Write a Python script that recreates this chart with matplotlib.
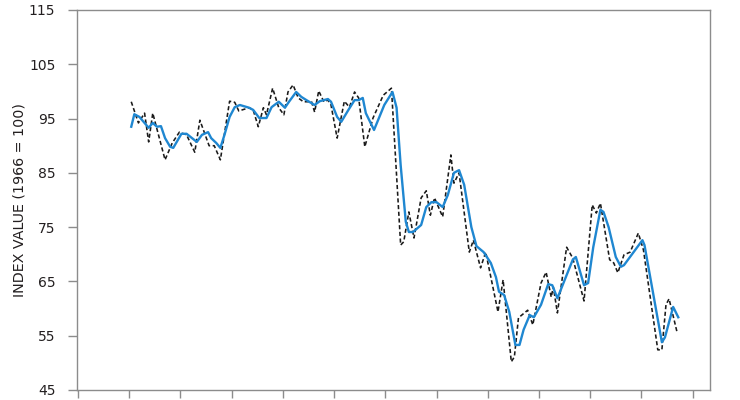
import matplotlib
matplotlib.use("Agg")
import matplotlib.pyplot as plt

# Raw index (dashed line)
raw_year = [1965.2, 1965.9, 1966.5, 1966.9, 1967.3, 1968.5, 1969.2, 1969.9, 1970.6, 1971.4,
            1971.9, 1972.8, 1973.3, 1973.9, 1974.8, 1975.3, 1975.7, 1976.7, 1977.1, 1977.6,
            1978.1, 1978.4, 1979.0, 1979.6, 1980.1, 1980.5, 1981.0, 1981.5, 1982.0, 1982.8,
            1983.1, 1983.5, 1984.0, 1984.4, 1984.7, 1985.3, 1986.0, 1986.5, 1987.0, 1987.4,
            1988.0, 1988.8, 1989.8, 1990.6, 1991.5, 1991.8, 1992.3, 1992.8, 1993.5, 1994.0,
            1994.4, 1994.8, 1995.6, 1996.4, 1996.7, 1997.2, 1998.2, 1998.6, 1999.3, 1999.8,
            2001.0, 2001.5, 2002.3, 2002.6, 2003.0, 2003.9, 2004.4, 2005.2, 2005.7, 2006.2,
            2006.4, 2006.8, 2007.7, 2008.3, 2009.4, 2010.2, 2010.6, 2011.0, 2011.9, 2012.3,
            2012.7, 2013.3, 2013.9, 2014.7, 2015.2, 2016.6, 2017.0, 2017.4, 2017.7, 2018.5]
raw_value = [98.1, 94.2, 96.0, 90.7, 96.0, 87.4, 90.5, 92.5, 92.0, 88.8,
             94.7, 90.0, 90.0, 87.4, 98.2, 98.0, 96.4, 97.0, 96.6, 93.5,
             97.0, 95.7, 100.6, 97.0, 95.7, 99.9, 101.2, 98.8, 98.1, 98.1,
             96.2, 100.1, 98.1, 98.4, 97.5, 91.4, 98.2, 97.1, 99.9, 98.8,
             89.8, 95.1, 99.3, 100.6, 71.7, 72.3, 77.8, 73.0, 80.4, 81.7,
             77.2, 80.4, 76.9, 88.3, 83.1, 85.0, 70.4, 72.6, 67.5, 70.4,
             59.4, 65.3, 50.2, 51.1, 58.3, 59.7, 57.0, 64.7, 66.7, 62.1,
             64.0, 59.2, 71.3, 69.3, 61.4, 79.1, 77.6, 79.4, 69.0, 68.4,
             66.6, 69.9, 70.4, 73.9, 70.8, 52.4, 52.4, 60.7, 61.8, 55.5]

# Smoothed index (blue line)
smooth_year = [1965.2, 1965.5, 1966.0, 1966.9, 1967.3, 1967.7, 1968.1, 1968.5, 1969.0, 1969.3,
               1970.1, 1970.6, 1971.0, 1971.6, 1972.1, 1972.7, 1973.0, 1973.5, 1973.9, 1974.3,
               1974.8, 1975.3, 1975.8, 1976.7, 1977.1, 1977.7, 1978.4, 1978.9, 1979.6, 1980.2,
               1980.6, 1981.3, 1981.8, 1982.3, 1983.1, 1983.6, 1984.4, 1984.7, 1985.3, 1985.7,
               1986.4, 1987.0, 1987.4, 1987.8, 1988.1, 1988.9, 1989.9, 1990.7, 1991.1, 1991.5,
               1992.0, 1992.3, 1992.7, 1993.5, 1994.0, 1994.5, 1995.0, 1995.6, 1996.1, 1996.7,
               1997.2, 1997.7, 1998.4, 1998.9, 1999.6, 2000.3, 2000.8, 2001.1, 2001.6, 2002.1,
               2002.7, 2003.1, 2003.5, 2004.1, 2004.5, 2005.2, 2005.9, 2006.3, 2006.8, 2008.3,
               2008.6, 2009.4, 2009.8, 2010.3, 2011.0, 2011.3, 2011.8, 2012.5, 2013.0, 2013.3,
               2015.1, 2015.3, 2017.0, 2017.3, 2018.1, 2018.6]
smooth_value = [93.5, 95.8, 95.3, 93.3, 94.2, 93.5, 93.6, 91.4, 89.8, 89.6,
                92.2, 92.2, 91.6, 90.7, 92.0, 92.5, 91.4, 90.5, 89.6, 92.0,
                95.3, 97.1, 97.5, 97.0, 96.6, 95.1, 95.1, 97.1, 98.1, 97.0,
                98.1, 99.9, 99.0, 98.4, 97.5, 98.2, 98.6, 98.1, 95.3, 94.4,
                96.6, 98.4, 98.4, 98.8, 96.0, 92.9, 97.5, 99.9, 97.0, 86.4,
                76.0, 74.1, 74.1, 75.4, 78.7, 79.6, 79.6, 78.7, 80.9, 85.0,
                85.5, 82.8, 75.0, 71.5, 70.4, 68.4, 65.8, 63.1, 62.5, 59.4,
                53.3, 53.3, 56.1, 58.8, 58.4, 60.7, 64.5, 64.3, 61.9, 69.0,
                69.5, 64.3, 64.7, 71.3, 78.2, 77.8, 75.0, 69.5, 67.7, 68.0,
                72.6, 71.7, 53.8, 54.7, 60.3, 58.4]

y_ticks = [45, 55, 65, 75, 85, 95, 105, 115]
x_ticks = list(range(1960, 2021, 5))
y_label = "INDEX VALUE (1966 = 100)"

text_color = "#231f20"
spine_color = "#8c8c8c"
font = ["DejaVu Sans"]

fig = plt.figure(figsize=(7.4, 4.0), dpi=100)
ax = fig.add_axes([0.104, 0.025, 0.8555, 0.95])

ax.plot(raw_year, raw_value, color="#1a1a1a", lw=1.15, ls=(0, (2.6, 1.6)), zorder=2)
ax.plot(smooth_year, smooth_value, color="#1f87d1", lw=1.7, zorder=3)

ax.set_ylim(45, 115)
ax.set_xlim(1959.9, 2021.7)
ax.set_yticks(y_ticks)
ax.set_xticks(x_ticks)
ax.set_xticklabels([])

for s in ax.spines.values():
    s.set_color(spine_color)
    s.set_linewidth(1.0)

ax.tick_params(axis="y", direction="out", length=6.5, width=1.0, color=spine_color,
               pad=9, labelsize=10, labelcolor=text_color)
ax.tick_params(axis="x", direction="out", length=5.5, width=1.0, color=spine_color)

for lab in ax.get_yticklabels():
    lab.set_family(font)

ax.set_ylabel(y_label, fontsize=10.3, color=text_color, family=font)
ax.yaxis.set_label_coords(-0.08, 0.5)

fig.savefig("out.png", dpi=100)
